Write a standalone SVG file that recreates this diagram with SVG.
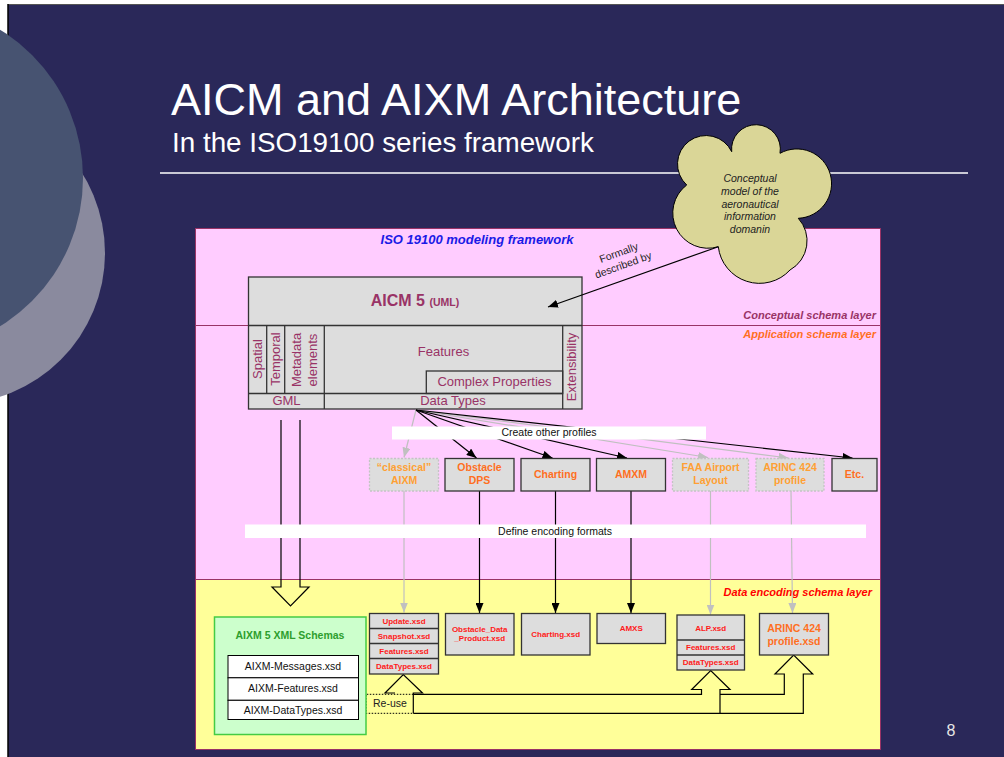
<svg xmlns="http://www.w3.org/2000/svg" width="1004" height="757" viewBox="0 0 1004 757">
  <style>
    text { font-family: "Liberation Sans", Arial, sans-serif; }
    .pur { fill: #993366; font-size: 13px; }
    .box { fill: #DDDDDD; stroke: #333333; stroke-width: 1.3; }
    .fbox { fill: #DDDDDD; stroke: #C4C4C4; stroke-width: 1.3; stroke-dasharray: 2 1.5; }
    .prof { font-size: 10.5px; font-weight: bold; text-anchor: middle; fill: #FF6F1F; }
    .proff { font-size: 10.5px; font-weight: bold; text-anchor: middle; fill: #FFA033; }
    .xsd { font-size: 8px; font-weight: bold; text-anchor: middle; fill: #FF1A1A; }
    .lk { stroke: #000000; stroke-width: 1.2; fill: none; }
    .lg { stroke: #C0C0C0; stroke-width: 1.2; fill: none; }
    .layer { font-size: 11px; font-weight: bold; font-style: italic; text-anchor: end; }
    .bar { fill: #FFFFFF; }
    .barlbl { font-size: 10.5px; fill: #111111; text-anchor: middle; }
    .row { fill: #FFFFFF; stroke: #000000; stroke-width: 1; }
    .rowlbl { font-size: 10.5px; fill: #111111; text-anchor: middle; }
  </style>
  <defs>
    <marker id="ahK" viewBox="0 0 10 8" refX="10" refY="4" markerWidth="10" markerHeight="8" markerUnits="userSpaceOnUse" orient="auto">
      <path d="M0,0 L10,4 L0,8 z" fill="#000000"/>
    </marker>
    <marker id="ahG" viewBox="0 0 10 8" refX="10" refY="4" markerWidth="10" markerHeight="8" markerUnits="userSpaceOnUse" orient="auto">
      <path d="M0,0 L10,4 L0,8 z" fill="#C0C0C0"/>
    </marker>
  </defs>

  <!-- slide background -->
  <rect x="0" y="0" width="1004" height="757" fill="#FFFFFF"/>
  <rect x="8" y="4" width="996" height="753" fill="#2A2859"/>
  <line x1="8" y1="4.5" x2="1004" y2="4.5" stroke="#555555" stroke-width="1"/>
  <line x1="8" y1="4" x2="8" y2="757" stroke="#000000" stroke-width="1.5"/>
  <g id="decor">
    <circle cx="-46" cy="253" r="151" fill="#8A8A9E"/>
    <circle cx="-91" cy="178" r="174" fill="#475371"/>
  </g>

  <!-- title -->
  <g id="title">
    <text x="171" y="115" font-size="45" fill="#FFFFFF">AICM and AIXM Architecture</text>
    <text x="172" y="152" font-size="27.8" fill="#FFFFFF">In the ISO19100 series framework</text>
    <line x1="160" y1="173" x2="968" y2="173" stroke="#FFFFFF" stroke-width="1.5"/>
  </g>

  <!-- layers -->
  <g id="layers">
    <rect x="195.5" y="228.5" width="685" height="351" fill="#FFCCFF" stroke="#993366" stroke-width="1"/>
    <rect x="195.5" y="579.5" width="685" height="170" fill="#FFFF99" stroke="#993366" stroke-width="1"/>
    <line x1="195.5" y1="325.5" x2="880.5" y2="325.5" stroke="#993366" stroke-width="1"/>
    <text x="477" y="244" font-size="13" font-weight="bold" font-style="italic" fill="#1A1AE6" text-anchor="middle">ISO 19100 modeling framework</text>
    <text class="layer" x="876" y="319" fill="#993366">Conceptual schema layer</text>
    <text class="layer" x="876" y="338" fill="#FF6F1F">Application schema layer</text>
    <text class="layer" x="872" y="596" fill="#FF0000">Data encoding schema layer</text>
  </g>

  <!-- domain cloud -->
  <g id="cloud">
    <path d="M731.7,151.7 A24.4,24.4 0 1 1 780,153.3 A34.7,34.7 0 1 1 798.3,218.3 A33.4,33.4 0 0 1 790,270 A41.5,41.5 0 0 1 718.3,246.7 A35.2,35.2 0 0 1 686.7,185 A28.5,28.5 0 1 1 731.7,151.7 Z" fill="#DAD697" stroke="#000000" stroke-width="1"/>
    <g font-size="10.5" font-style="italic" fill="#222222" text-anchor="middle">
      <text x="750" y="182">Conceptual</text>
      <text x="750" y="195">model of the</text>
      <text x="750" y="207.5">aeronautical</text>
      <text x="750" y="220">information</text>
      <text x="750" y="232.5">domanin</text>
    </g>
  </g>

  <!-- AICM 5 model -->
  <g id="aicm">
    <rect class="box" x="248.5" y="277" width="333.5" height="132"/>
    <line x1="248.5" y1="325.5" x2="582" y2="325.5" stroke="#333333" stroke-width="1.3"/>
    <text x="415" y="306" fill="#993366" font-weight="bold" text-anchor="middle"><tspan font-size="16">AICM 5 </tspan><tspan font-size="10.5">(UML)</tspan></text>
    <!-- inner partitions -->
    <line x1="266.7" y1="325.5" x2="266.7" y2="393.5" stroke="#333" stroke-width="1.3"/>
    <line x1="284.7" y1="325.5" x2="284.7" y2="393.5" stroke="#333" stroke-width="1.3"/>
    <line x1="324.3" y1="325.5" x2="324.3" y2="409" stroke="#333" stroke-width="1.3"/>
    <line x1="562.7" y1="325.5" x2="562.7" y2="409" stroke="#333" stroke-width="1.3"/>
    <line x1="248.5" y1="393.5" x2="562.7" y2="393.5" stroke="#333" stroke-width="1.3"/>
    <rect x="426.3" y="371" width="136.4" height="22.5" fill="none" stroke="#333" stroke-width="1.3"/>
    <text class="pur" x="443.5" y="356" text-anchor="middle">Features</text>
    <text class="pur" x="494.5" y="386" text-anchor="middle">Complex Properties</text>
    <text class="pur" x="453" y="405" text-anchor="middle">Data Types</text>
    <text class="pur" x="286.5" y="405" text-anchor="middle">GML</text>
    <text class="pur" text-anchor="middle" transform="translate(262,359) rotate(-90)">Spatial</text>
    <text class="pur" text-anchor="middle" transform="translate(280,359) rotate(-90)">Temporal</text>
    <text class="pur" text-anchor="middle" transform="translate(300.5,360) rotate(-90)">Metadata</text>
    <text class="pur" text-anchor="middle" transform="translate(317,360) rotate(-90)">elements</text>
    <text class="pur" text-anchor="middle" transform="translate(576,367) rotate(-90)">Extensibility</text>
  </g>

  <!-- connectors -->
  <g id="connectors">
    <!-- formally described by -->
    <line class="lk" x1="718.3" y1="246.7" x2="548" y2="307" marker-end="url(#ahK)"/>
    <g font-size="10.5" fill="#222222" text-anchor="middle" transform="translate(621,259) rotate(-20)">
      <text x="0" y="-3">Formally</text>
      <text x="0" y="10">described by</text>
    </g>
    <!-- profile fan-out -->
    <line class="lg" x1="416" y1="410" x2="404" y2="457.5" marker-end="url(#ahG)"/>
    <line class="lg" x1="416" y1="410" x2="708" y2="457.5" marker-end="url(#ahG)"/>
    <line class="lg" x1="416" y1="410" x2="788.5" y2="458" marker-end="url(#ahG)"/>
    <line class="lk" x1="416" y1="410" x2="476.5" y2="458" marker-end="url(#ahK)"/>
    <line class="lk" x1="416" y1="410" x2="552.5" y2="458" marker-end="url(#ahK)"/>
    <line class="lk" x1="416" y1="410" x2="627" y2="458" marker-end="url(#ahK)"/>
    <line class="lk" x1="416" y1="410" x2="852.5" y2="458" marker-end="url(#ahK)"/>
    <!-- encodings -->
    <line class="lg" x1="404" y1="491" x2="404" y2="612.5" marker-end="url(#ahG)"/>
    <line class="lk" x1="479.5" y1="491" x2="479.5" y2="613" marker-end="url(#ahK)"/>
    <line class="lk" x1="555.5" y1="491" x2="555.5" y2="613" marker-end="url(#ahK)"/>
    <line class="lk" x1="631" y1="491" x2="631" y2="613" marker-end="url(#ahK)"/>
    <line class="lg" x1="710.5" y1="491" x2="710.5" y2="614.5" marker-end="url(#ahG)"/>
    <line class="lg" x1="791" y1="491" x2="792.5" y2="613" marker-end="url(#ahG)"/>
    <!-- GML to XML schemas -->
    <polyline class="lk" stroke-width="1.5" points="281,420 281,587 272,587 290.5,606 309,587 300,587 300,420"/>
    <!-- re-use -->
    <polyline class="lk" stroke-width="1.3" points="395,693 385,693 403.3,674.5 422.5,693 413.3,693 413.3,713.3"/>
    <polyline class="lk" stroke-width="1.3" points="413.3,694.3 701.5,694.3 701.5,689.5 691.7,689.5 710.7,670.5 730,689.5 720,689.5 720,713.3"/>
    <polyline class="lk" stroke-width="1.3" points="720,694.3 784.3,694.3 784.3,674 775,674 793.7,655 812.7,674 803.3,674 803.3,713.3 413.3,713.3"/>
    <path d="M413.3,694.3 H366 V713.3 H413.3" fill="none" stroke="#000000" stroke-width="1" stroke-dasharray="1.5 1.5"/>
    <text x="373" y="707" font-size="10.5" fill="#222222">Re-use</text>
  </g>

  <!-- connector labels on white bands -->
  <g id="bands">
    <rect class="bar" x="392" y="426.5" width="314" height="13"/>
    <text class="barlbl" x="549" y="436">Create other profiles</text>
    <rect class="bar" x="245" y="524.5" width="621" height="13.5"/>
    <text class="barlbl" x="555" y="534.5">Define encoding formats</text>
  </g>

  <!-- profiles -->
  <g id="p-classical">
    <rect class="fbox" x="369.5" y="458.5" width="69" height="32.5"/>
    <text class="proff" x="404" y="471">“classical”</text>
    <text class="proff" x="404" y="483.5">AIXM</text>
  </g>
  <g id="p-obstacle">
    <rect class="box" x="445" y="458.5" width="69" height="32.5"/>
    <text class="prof" x="479.5" y="471">Obstacle</text>
    <text class="prof" x="479.5" y="483.5">DPS</text>
  </g>
  <g id="p-charting">
    <rect class="box" x="521" y="458.5" width="69" height="32.5"/>
    <text class="prof" x="555.5" y="478">Charting</text>
  </g>
  <g id="p-amxm">
    <rect class="box" x="596.5" y="458.5" width="69" height="32.5"/>
    <text class="prof" x="631" y="478">AMXM</text>
  </g>
  <g id="p-faa">
    <rect class="fbox" x="672.5" y="458.5" width="76" height="32.5"/>
    <text class="proff" x="710.5" y="471">FAA Airport</text>
    <text class="proff" x="710.5" y="483.5">Layout</text>
  </g>
  <g id="p-arinc">
    <rect class="fbox" x="756" y="458.5" width="68" height="32.5"/>
    <text class="proff" x="790" y="471">ARINC 424</text>
    <text class="proff" x="790" y="483.5">profile</text>
  </g>
  <g id="p-etc">
    <rect class="box" x="832" y="458.5" width="45" height="32.5"/>
    <text class="prof" x="854.5" y="478">Etc.</text>
  </g>

  <!-- encodings -->
  <g id="xml-schemas">
    <rect x="214.5" y="617" width="151.5" height="117.5" fill="#CCFFCC" stroke="#44CC44" stroke-width="1.5"/>
    <text x="290" y="638.5" font-size="10.5" font-weight="bold" fill="#2E9E2E" text-anchor="middle">AIXM 5 XML Schemas</text>
    <rect class="row" x="228" y="655.5" width="130.5" height="22.3"/>
    <rect class="row" x="228" y="677.8" width="130.5" height="22.5"/>
    <rect class="row" x="228" y="700.3" width="130.5" height="19.2"/>
    <text class="rowlbl" x="293" y="670">AIXM-Messages.xsd</text>
    <text class="rowlbl" x="293" y="692.3">AIXM-Features.xsd</text>
    <text class="rowlbl" x="293" y="713.5">AIXM-DataTypes.xsd</text>
  </g>
  <g id="x-classical">
    <rect class="box" x="369.5" y="613.5" width="69" height="60.5"/>
    <line x1="369.5" y1="628.5" x2="438.5" y2="628.5" stroke="#333" stroke-width="1.3"/>
    <line x1="369.5" y1="643.5" x2="438.5" y2="643.5" stroke="#333" stroke-width="1.3"/>
    <line x1="369.5" y1="658.5" x2="438.5" y2="658.5" stroke="#333" stroke-width="1.3"/>
    <text class="xsd" x="404" y="624">Update.xsd</text>
    <text class="xsd" x="404" y="639">Snapshot.xsd</text>
    <text class="xsd" x="404" y="654">Features.xsd</text>
    <text class="xsd" x="404" y="669">DataTypes.xsd</text>
  </g>
  <g id="x-obstacle">
    <rect class="box" x="445.5" y="613.5" width="68.5" height="41.5"/>
    <text class="xsd" x="479.7" y="632">Obstacle_Data</text>
    <text class="xsd" x="479.7" y="641">_Product.xsd</text>
  </g>
  <g id="x-charting">
    <rect class="box" x="521.5" y="613.5" width="68.5" height="41.5"/>
    <text class="xsd" x="555.7" y="637">Charting.xsd</text>
  </g>
  <g id="x-amxs">
    <rect class="box" x="597" y="613.5" width="68.5" height="30"/>
    <text class="xsd" x="631.2" y="631">AMXS</text>
  </g>
  <g id="x-alp">
    <rect class="box" x="677" y="615" width="67.5" height="55"/>
    <line x1="677" y1="640" x2="744.5" y2="640" stroke="#333" stroke-width="1.3"/>
    <line x1="677" y1="655" x2="744.5" y2="655" stroke="#333" stroke-width="1.3"/>
    <text class="xsd" x="710.7" y="631">ALP.xsd</text>
    <text class="xsd" x="710.7" y="650">Features.xsd</text>
    <text class="xsd" x="710.7" y="665">DataTypes.xsd</text>
  </g>
  <g id="x-arinc">
    <rect class="box" x="759.5" y="613.5" width="69" height="41.5"/>
    <text class="prof" x="794" y="632">ARINC 424</text>
    <text class="prof" x="794" y="644.5">profile.xsd</text>
  </g>

  <text x="951" y="736" font-size="16" fill="#E6E6E6" text-anchor="middle">8</text>
</svg>
